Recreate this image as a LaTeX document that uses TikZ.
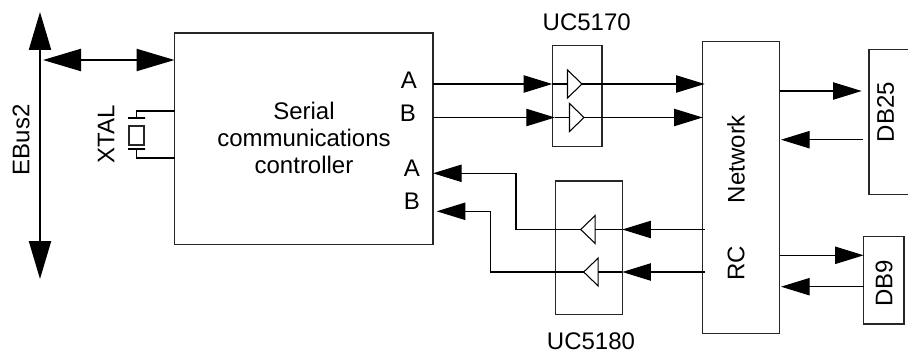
\documentclass[tikz,border=0pt]{standalone}
\usepackage{fontspec}
\setmainfont{Liberation Sans}
\usetikzlibrary{shapes.geometric, arrows.meta, positioning}

\begin{document}
\begin{tikzpicture}[
    x=0.75pt, y=-0.75pt,
    box/.style 2 args={rectangle, draw=black!85, line width=0.8pt, inner sep=0pt, outer sep=0pt, minimum width=#1*0.75pt, minimum height=#2*0.75pt},
    lbl/.style={font=\fontsize{18}{20.25}\selectfont, inner sep=0pt, outer sep=0pt, align=center},
    bufr/.style={isosceles triangle, isosceles triangle stretches, draw=black, line width=0.8pt, fill=white, inner sep=0pt, outer sep=0pt, minimum width=28*0.75pt, minimum height=14.5*0.75pt},
    plate/.style={rectangle, draw=black, line width=0.8pt, inner sep=0pt, outer sep=0pt, minimum width=17*0.75pt, minimum height=0pt},
    wire/.style={line width=0.8pt},
    arrow/.style={line width=0.9pt, -{Triangle[length=21.5pt, width=13pt]}},
    bus/.style={line width=1.7pt, {Triangle[length=28.5pt, width=16.5pt]}-{Triangle[length=28.5pt, width=16.5pt]}}
]
    \useasboundingbox (0,0) rectangle (908,353);
    \clip (0,0) rectangle (908,353);

    \node[box={258.5}{211.7}] (serial) at (303.75,138.85) {};
    \node[box={49.7}{101}] (txbox) at (577.15,96.2) {};
    \node[box={66.6}{133.3}] (rxbox) at (589,247.65) {};
    \node[box={76.6}{291.6}] (network) at (741,187.5) {};
    \node[box={60}{145}] (dbbig) at (899,121.8) {};
    \node[box={40.3}{87.7}] (dbsmall) at (883.85,280.15) {};

    \node[lbl] (serialtext) at (304,138) {Serial\\communications\\controller};
    \node[lbl, above=11.5pt of txbox, xshift=7.2pt] (txname) {UC5170};
    \node[lbl, below=14pt of rxbox, xshift=1.5pt] (rxname) {UC5180};
    \node[lbl, rotate=90] (ebusname) at (21,140) {EBus2};
    \node[lbl, rotate=90] (xtalname) at (106,134) {XTAL};
    \node[lbl, rotate=90] (netname) at (736,159) {Network};
    \node[lbl, rotate=90] (rcname) at (736,263) {RC};
    \node[lbl, rotate=90] (bigname) at (885.5,112) {DB25};
    \node[lbl, rotate=90] (smallname) at (884,283) {DB9};
    \node[lbl] (txa) at (409,80) {A};
    \node[lbl] (txb) at (408,113) {B};
    \node[lbl] (rxa) at (412,168) {A};
    \node[lbl] (rxb) at (412,201) {B};

    \node[bufr, anchor=apex] (drva) at (582,84) {};
    \node[bufr, anchor=apex] (drvb) at (584,117.5) {};
    \node[bufr, shape border rotate=180, anchor=apex] (rcva) at (580.7,229.5) {};
    \node[bufr, shape border rotate=180, anchor=apex] (rcvb) at (583.7,272) {};

    \node[box={15}{19}] (xtal) at (136.5,135.5) {};
    \node[plate] (plateu) at (136.5,118) {};
    \node[plate] (plated) at (136.5,149) {};

    \coordinate (bustop) at (40,12);
    \coordinate (busbot) at (40,279);
    \coordinate (busport) at (43,60);
    \coordinate (xtalu) at (136.5,111);
    \coordinate (xtald) at (136.5,158);
    \coordinate (rxaturn) at (516,173.3);
    \coordinate (rxbturn) at (490.3,211.3);
    \coordinate (rxbtip) at (436.7,211.3);
    \coordinate (rxain) at (705,229.5);
    \coordinate (rxbin) at (705,272);
    \coordinate (neta) at (780,91);
    \coordinate (netb) at (781,139.7);
    \coordinate (netc) at (780,255.3);
    \coordinate (netd) at (781,286.7);
    \coordinate (bigtip) at (861.7,91);
    \coordinate (bigout) at (863,139.7);

    \draw[bus] (bustop) -- (busbot);
    \draw[bus] (busport) -- (serial.west |- busport);
    \draw[wire] (plateu.north) -- (xtalu) -- (serial.west |- xtalu);
    \draw[wire] (plated.south) -- (xtald) -- (serial.west |- xtald);
    \draw[arrow] (serial.east |- drva.lower side) -- (txbox.west |- drva.lower side);
    \draw[arrow] (serial.east |- drvb.lower side) -- ([xshift=2pt]txbox.west |- drvb.lower side);
    \draw[wire, line width=0.9pt] (txbox.west |- drva.lower side) -- (drva.lower side);
    \draw[wire, line width=0.9pt] ([xshift=2pt]txbox.west |- drvb.lower side) -- (drvb.lower side);
    \draw[arrow] (drva.apex) -- ([xshift=1.5pt]network.west |- drva.apex);
    \draw[arrow] (drvb.apex) -- (network.west |- drvb.apex);
    \draw[arrow] (rxain) -- (rxbox.east |- rxain);
    \draw[arrow] (rxbin) -- (rxbox.east |- rxbin);
    \draw[wire, line width=0.9pt] (rxbox.east |- rxain) -- (rcva.lower side);
    \draw[wire, line width=0.9pt] (rxbox.east |- rxbin) -- (rcvb.lower side);
    \draw[arrow] (rcva.apex) -- (rxaturn |- rcva.apex) -- (rxaturn) -- (serial.east |- rxaturn);
    \draw[arrow] (rcvb.apex) -- (rxbturn |- rcvb.apex) -- (rxbturn) -- (rxbtip);
    \draw[arrow] (neta) -- (bigtip);
    \draw[arrow] (bigout) -- (netb);
    \draw[arrow] (netc) -- (dbsmall.west |- netc);
    \draw[arrow] (dbsmall.west |- netd) -- (netd);
\end{tikzpicture}
\end{document}
